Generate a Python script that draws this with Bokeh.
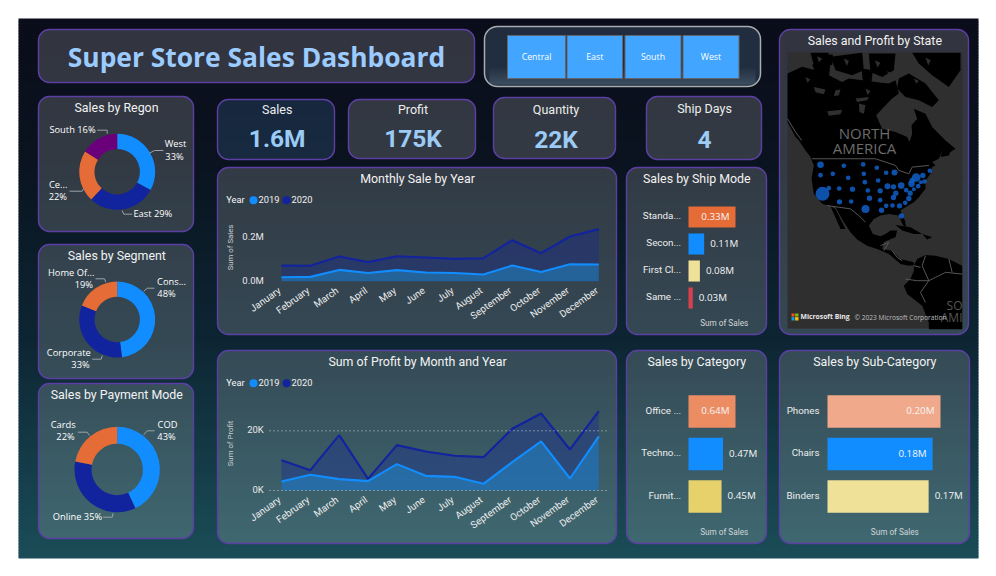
from bokeh.plotting import figure
from bokeh.models import Range1d, LinearScale, BoxAnnotation
from bokeh.core.properties import value
from bokeh.embed import file_html
from bokeh.resources import INLINE
import math

# ---------- data ----------
months = ["January","February","March","April","May","June","July","August","September","October","November","December"]
sales_2019 = [.018,.020,.052,.038,.051,.040,.038,.031,.072,.042,.078,.077]
sales_2020 = [.072,.071,.114,.088,.115,.109,.103,.106,.189,.129,.206,.240]
profit_2019 = [3017,5251,3799,3128,8827,4916,4581,2235,9497,16425,4022,18101]
profit_2020 = [10168,6816,18547,3911,15196,13073,11620,11173,20670,25810,13743,26592]

region_vals = [33,29,22,16]
segment_vals = [48,33,19]
payment_vals = [43,35,22]

ship_names = ["Standa...","Secon...","First Cl...","Same ..."]
ship_vals = [.33,.11,.08,.03]
ship_text = ["0.33M","0.11M","0.08M","0.03M"]
cat_names = ["Office ...","Techno...","Furnit..."]
cat_vals = [.64,.47,.45]
cat_text = ["0.64M","0.47M","0.45M"]
sub_names = ["Phones","Chairs","Binders"]
sub_vals = [.20,.186,.179]
sub_text = ["0.20M","0.18M","0.17M"]

slicer_names = ["Central","East","South","West"]

# state bubbles, read in map units
dot_x = [135,205,263,304,135,172,265,332,357,218,268,308,160,141,191,231,277,314,336,354,377,408,422,442,447,463,436,428,415,392,404,361,354,400,389,372,351,332,318,314,282,227,192,270,378,410]
dot_y = [418,421,417,427,449,445,445,442,441,457,470,465,488,505,489,491,495,496,482,484,480,475,456,450,468,436,470,482,491,494,503,503,516,519,532,541,540,541,554,524,518,528,529,550,571,465]
dot_r = [10,7,7,7,7,7,7,7,9,7,7,7,7,21,7,8,7,8,9,8,10,10,13,8,7,7,6,7,6,7,8,8,8,8,7,8,7,7,8,7,8,7,8,12,8,8]

# land outlines in map units
north_x = [6,50,90,130,170,190,230,270,310,330,340,320,300,272,290,330,365,372,380,378,395,385,420,440,480,510,495,470,460,440,450,
           440,435,420,420,400,385,360,345,358,362,352,340,310,285,265,250,262,285,300,315,335,330,305,295,290,320,345,385,385,370,345,310,275,245,215,195,175,150,135,110,85,78,85,75,60,40,30,6]
north_y = [70,50,60,75,95,85,90,95,100,90,130,145,165,195,235,245,260,275,250,225,205,175,190,230,270,295,305,300,325,335,345,
           350,370,390,415,440,455,470,480,510,530,523,495,490,495,505,525,550,557,550,540,540,560,570,575,595,600,625,635,643,645,640,610,595,585,567,545,515,470,467,460,430,385,345,320,300,270,260,215]
south_x = [385,395,420,450,490,530,530,430,430,410,365,355,375,385]
south_y = [645,625,613,615,625,645,835,835,815,765,730,705,685,660]
isle_x = [[75,130,120,85],[135,230,235,200,150],[250,330,325,290,255],[340,370,420,460,440,400,360,335],[380,525,525,490,440,400],
          [135,150,180,165],[330,375,410,385,350],[410,440,425],[470,500,490,465],[80,135,130,90],[228,262,258,232],[118,142,140,120]]
isle_y = [[8,8,40,45],[20,8,60,75,60],[10,10,60,80,65],[85,70,100,150,170,150,140,115],[8,8,60,110,75,40],
          [467,475,535,535],[523,530,550,550,540],[550,560,567],[300,290,315,320],[42,38,80,70],[55,60,95,92],[12,14,45,42]]
lake_x = [[85,120,115,90],[125,170,165,130],[220,240,235,222],[345,360,350],[385,400,392],[150,165,160,145],[210,250,245,215],
          [175,190,184],[150,168,160],[268,285,276],[95,110,100],[305,318,310],[420,436,428],[445,462,452],[60,74,66],[240,255,246]]
lake_y = [[110,118,132,126],[183,178,192,196],[160,165,190,185],[165,170,178],[85,92,100],[120,118,135,138],[145,140,150,155],
          [25,32,48],[70,76,92],[30,38,52],[18,26,36],[62,70,80],[22,30,46],[82,90,104],[80,88,98],[115,122,134]]
border_x = [[6,30,45,48],[80,270,300,330,340,370,380,430],[125,160,195,220,240],[285,310,295],
            [420,410,430,405,420],[360,395,430,480,530],[490,500],[320,335,350],[385,405]]
border_y = [[205,245,265,270],[325,325,335,345,360,370,350,345],[465,470,475,495,515],[585,575,600],
            [615,645,690,725,755],[685,690,690,665,670],[625,665],[600,620,630],[645,650]]

# ---------- layout ----------
W, H = 980, 560
FONT_T = "Roboto"
FONT_L = "Open Sans"
BLUE, NAVY, ORANGE, PURPLE = "#118DFF", "#12239E", "#E66C37", "#6B007B"
KPI = "#9CCBF5"

p = figure(width=W, height=H, x_range=Range1d(0, W), y_range=Range1d(H, 0),
           output_backend="svg", toolbar_location=None, min_border=0,
           background_fill_color="white", border_fill_color="white")
p.axis.visible = False
p.grid.visible = False
p.outline_line_color = None

stops = [(18,(10,13,26)),(160,(10,20,32)),(340,(14,38,52)),(450,(20,58,70)),(558,(27,78,88))]
def bg(y):
    for (a,ca),(b,cb) in zip(stops, stops[1:]):
        if y <= b:
            t = (y-a)/(b-a)
            return "#%02x%02x%02x" % tuple(int(ca[i]+t*(cb[i]-ca[i])) for i in range(3))
    return "#1b4e58"
ys = list(range(18, 558, 3))
p.quad(left=18, right=978, top=ys, bottom=[min(y+4,558) for y in ys], fill_color=[bg(y) for y in ys],
       line_color=None, level="image")

def panel(l, r, t, b, fill="#ffffff", alpha=.165, line="#5B3FA3", lw=1.4, radius=11):
    p.add_layout(BoxAnnotation(left=l, right=r, top=t, bottom=b, fill_color=fill, fill_alpha=alpha,
                               line_color=line, line_alpha=1, line_width=lw, border_radius=radius, level="underlay"))

def put(xs, ys, texts, size=10, color="#ffffff", align="center", base="middle", font=FONT_L, style="normal",
        angle=0, api=None, alpha=1, dx=0, dy=-1):
    (api or p).text(x=xs, y=ys, text=texts, text_font=value(font), text_font_size=f"{size}px", text_color=color,
                    text_align=align, text_baseline=base, text_font_style=style, angle=angle, text_alpha=alpha,
                    x_offset=dx, y_offset=dy)

for box in [(38,474,29,82),(38,193,96,231),(38,193,244,378),(38,193,383,538),(348,475,99,158),(493,615,97,158),
            (646,761,96,159),(217,616,167,334),(217,616,350,543),(626,766,167,334),(626,766,350,543),(779,969,350,543),(779,968,29,334)]:
    panel(*box)
panel(217,334,99,159, fill="#2c4a6e", alpha=.42)
panel(484,760,26,86, fill="#34495e", alpha=.55, line="#A9ACB0", lw=1.5, radius=13)

put([256],[57],["Super Store Sales Dashboard"],size=26.4,color="#9CCBFF",style="bold")

# slicer
gy = list(range(66, 84))
p.quad(left=489, right=755, top=gy, bottom=[y+1.2 for y in gy], fill_color="#8FA6BC",
       fill_alpha=[.012*(y-65) for y in gy], line_color=None)
btn_l = [507,566.5,624.5,682.5]
btn_r = [565,622,680.5,738.5]
p.quad(left=btn_l,right=btn_r,top=35,bottom=78,fill_color="#42A5FF",line_color="#60666C",line_width=1)
put([(a+b)/2 for a,b in zip(btn_l,btn_r)],[57]*4,slicer_names,size=8.8,font=FONT_L)

# titles
title_specs = [(116,108,"Sales by Regon"),(116.3,255.7,"Sales by Segment"),(116.3,395,"Sales by Payment Mode"),
               (417,178.7,"Monthly Sale by Year"),(417,361.7,"Sum of Profit by Month and Year"),
               (696.3,178.7,"Sales by Ship Mode"),(696.3,361.7,"Sales by Category"),(874.3,361.7,"Sales by Sub-Category"),
               (874.3,40.7,"Sales and Profit by State")]
for x,y,t in title_specs:
    put([x],[y],[t],size=12.4,color="#F2F2F2",font=FONT_T)

# KPI cards
for x,y1,y2,t,v in [(276.7,110.3,139.3,"Sales","1.6M"),(412.5,110,139.3,"Profit","175K"),
                    (555.5,109.7,139.7,"Quantity","22K"),(704,108.7,140.3,"Ship Days","4")]:
    put([x],[y1],[t],size=12.5,color="#EDEDED",font=FONT_T)
    put([x],[y2],[v],size=24.5,color=KPI,font=FONT_T,style="bold")

# donuts
def donut(vals, colors, cx, cy, ro, ri):
    total = sum(vals)
    a = math.pi/2
    s, e = [], []
    for v in vals:
        s.append(a); a -= 2*math.pi*v/total; e.append(a)
    p.annular_wedge(x=cx, y=cy, inner_radius=ri, outer_radius=ro, start_angle=s, end_angle=e,
                    direction="clock", fill_color=colors, line_color=None)

donut(region_vals,[BLUE,NAVY,ORANGE,PURPLE],116.7,171.3,38,22.7)
donut(segment_vals,[BLUE,NAVY,ORANGE],116.7,319,38,22.7)
donut(payment_vals,[BLUE,NAVY,ORANGE],116.7,469,42.7,25.7)

leaders = [([163,154,149],[150,150,152.7]),([96.7,106.7,106.7],[129.7,129.7,133.3]),([69,81.7,83],[190.7,190.7,188.3]),
           ([131.7,123.3,121.7],[213.7,213.7,210]),([154,146.7,143.3],[287.7,287.7,290.7]),([95,104,105.3],[278.3,278.3,281.7]),
           ([91.7,100.7,101.7],[358.7,358.7,355]),([154,146.7,143.3],[430.3,430.3,434.3]),([77.3,86.7,89],[431.7,431.7,435]),
           ([102.7,111.7,112.7],[516.7,516.7,512.7])]
p.multi_line(xs=[l[0] for l in leaders], ys=[l[1] for l in leaders], line_color="#9BA3A8", line_width=1)
lab = [(175,144.3,"West"),(174,156.7,"33%"),(72,129.7,"South 16%"),(57.7,185,"Ce..."),(57.3,196.7,"22%"),(152.3,213.7,"East 29%"),
       (171,282,"Cons..."),(166,293.7,"48%"),(70.7,272.7,"Home Of..."),(83.3,284.7,"19%"),(68.3,352.7,"Corporate"),(80,364.7,"33%"),
       (167,424.7,"COD"),(166,436.7,"43%"),(62.7,425.3,"Cards"),(65,437.3,"22%"),(77,516.7,"Online 35%")]
put([l[0] for l in lab],[l[1] for l in lab],[l[2] for l in lab],size=9.3)

# area charts
idx = list(range(12))
def area_chart(y19, y20, ymax, y0_px, ymax_px, ticks, tick_text, axis_title, legend_y, axis_y):
    sub = p.subplot(x_source=Range1d(0,11), y_source=Range1d(0,ymax), x_scale=LinearScale(), y_scale=LinearScale(),
                    x_target=Range1d(281,598.3), y_target=Range1d(y0_px,ymax_px))
    zero = [0]*12
    sub.varea(x=idx,y1=zero,y2=y20,fill_color=NAVY,fill_alpha=.33)
    sub.varea(x=idx,y1=zero,y2=y19,fill_color="#1E9AE0",fill_alpha=.42)
    sub.line(x=idx,y=y20,line_color=NAVY,line_width=2.1)
    sub.line(x=idx,y=y19,line_color=BLUE,line_width=2.1)
    put(idx,zero,months,size=9.8,color="#EDEDED",align="right",font=FONT_T,angle=.62,api=sub,dx=-2,dy=8)
    put([-.06]*len(ticks),ticks,tick_text,size=9.5,color="#E8E8E8",align="right",font=FONT_T,api=sub,dx=-16)
    put([229.7],[axis_y],[axis_title],size=7.8,color="#C8CDD0",font=FONT_T,angle=math.pi/2)
    put([225.7],[legend_y],["Year"],size=9.3,align="left",color="#F7F7F7",font=FONT_T)
    p.scatter(x=[253,286],y=[legend_y]*2,size=8,fill_color=[BLUE,NAVY],line_color=None)
    put([258,291],[legend_y]*2,["2019","2020"],size=9.3,align="left",color="#F2F2F2",font=FONT_T)
    return sub

area_chart(sales_2019,sales_2020,.2,280.7,237.3,[0,.2],["0.0M","0.2M"],"Sum of Sales",199.7,248)
area_chart(profit_2019,profit_2020,20000,490,430.3,[0,20000],["0K","20K"],"Sum of Profit",382.7,444)
p.multi_line(xs=[[269,609],[269,609]],ys=[[490,490],[430.3,430.3]],line_color="#C9CFCF",line_width=1,line_dash="1 3")

# bars
def bars(names, vals, text, colors, inside, x0, x_end, vmax, top, step, hfrac, label_right, axis_x, axis_y):
    n = len(vals)
    sub = p.subplot(x_source=Range1d(0,vmax), y_source=Range1d(-.5,n-.5), x_scale=LinearScale(), y_scale=LinearScale(),
                    x_target=Range1d(x0,x_end), y_target=Range1d(top,top+step*n))
    yy = list(range(n))
    sub.hbar(y=yy,left=0,right=vals,height=hfrac,fill_color=colors,line_color=None)
    dx = [-6 if i else 6 for i in inside]
    al = ["right" if i else "left" for i in inside]
    sub.text(x=vals,y=yy,text=text,text_font=value(FONT_L),text_font_size="9.8px",text_color="#F5F5F5",
             text_align=al,text_baseline="middle",x_offset=dx,y_offset=-1)
    put([label_right]*n,[top+step*(i+.5)-.5 for i in yy],names,size=9.8,color="#EDEDED",align="right",font=FONT_T)
    put([axis_x],[axis_y],["Sum of Sales"],size=8.2,color="#D3D7D9",font=FONT_T)

bars(ship_names,ship_vals,ship_text,[ORANGE,BLUE,"#F0E199","#D9404F"],[1,0,0,0],688,735,.33,203,27,.78,680.7,723.7,323)
bars(cat_names,cat_vals,cat_text,["#EC8C62",BLUE,"#E6D16B"],[1,0,0],688,735,.64,389.75,42.5,.76,680.7,723.7,532)
bars(sub_names,sub_vals,sub_text,["#F0A98A",BLUE,"#F0E199"],[1,1,0],827,940,.20,389.75,42.5,.76,819,894.3,532)

# map
m = p.subplot(x_source=Range1d(6,531), y_source=Range1d(7,833), x_scale=LinearScale(), y_scale=LinearScale(),
              x_target=Range1d(787,962), y_target=Range1d(52,328))
m.quad(left=6,right=531,top=7,bottom=833,fill_color="#2F2F2F",line_color=None)
m.patch(north_x,north_y,fill_color="#000000",line_color=None)
m.patch(south_x,south_y,fill_color="#000000",line_color=None)
m.patches(isle_x,isle_y,fill_color="#000000",line_color=None)
m.patches(lake_x,lake_y,fill_color="#2F2F2F",line_color=None)
m.multi_line(border_x,border_y,line_color="#565656",line_width=1)
put([864,864],[133.7,148],["NORTH","AMERICA"],size=15,color="#6B6B6B")
put([962,962],[306,318],["SO","AMI"],size=12,color="#555555",align="right")
d = p.subplot(x_source=Range1d(36,561), y_source=Range1d(82,908), x_scale=LinearScale(), y_scale=LinearScale(),
              x_target=Range1d(787,962), y_target=Range1d(52,328))
d.scatter(x=dot_x,y=dot_y,radius=dot_r,fill_color="#0F5FC8",fill_alpha=.85,line_color=None)
p.quad(left=[791,794.6,791,794.6],right=[794,798,794,798],top=[313,313,316.6,316.6],bottom=[316,316,320,320],
       fill_color=["#F25022","#7FBA00","#00A4EF","#FFB900"],line_color=None)
put([800],[317],["Microsoft Bing"],size=6.8,align="left",style="bold",color="#E8E8E8")
put([854],[318],["© 2023 Microsoft Corporation"],size=6.6,align="left",color="#BFBFBF")

open("out.html","w").write(file_html(p, INLINE))
